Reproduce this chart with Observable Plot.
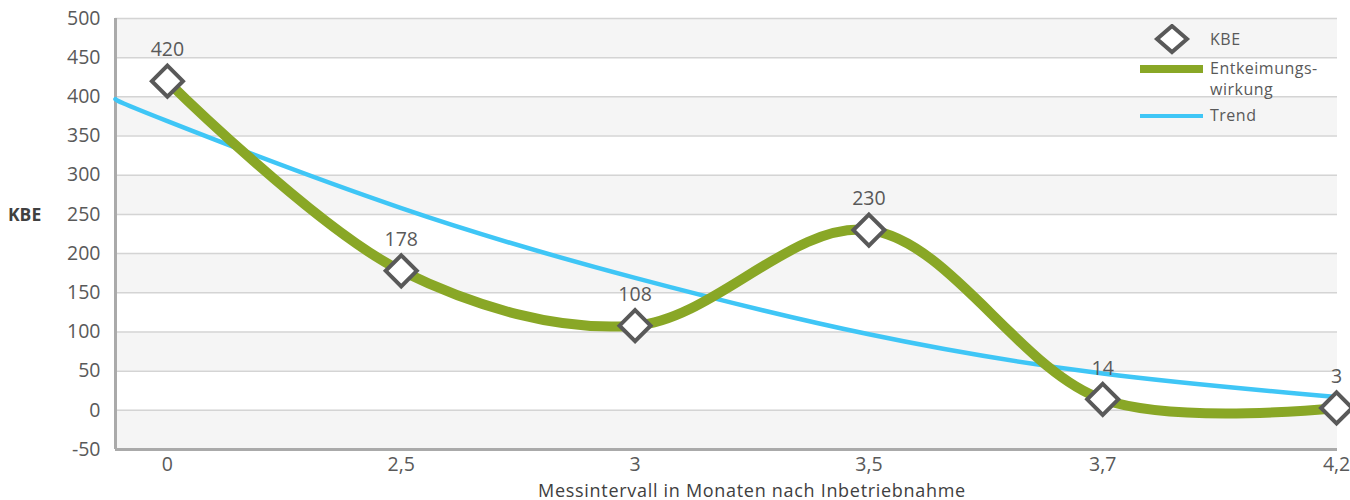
<!DOCTYPE html>
<html>
<head>
<meta charset="utf-8">
<script src="https://cdn.jsdelivr.net/npm/d3@7"></script>
<script src="https://cdn.jsdelivr.net/npm/@observablehq/plot@0.6"></script>
<style>
  body { margin: 0; background: #fff; font-family: "Open Sans", "DejaVu Sans", sans-serif; color: #595959; }
  #wrap { position: relative; width: 1350px; height: 500px; }
  .ylab { position: absolute; left: 8px; top: 202px; font-size: 17.5px; font-weight: bold; color: #404040; }
  .xlab { position: absolute; left: 0; width: 1504px; top: 479px; text-align: center; font-size: 18px; letter-spacing: 0.7px; color: #404040; line-height: 22px; }
  .legend { position: absolute; left: 1130px; top: 24px; font-size: 16px; letter-spacing: 0.5px; color: #595959; }
  .legend .txt { position: absolute; left: 80px; line-height: 16px; white-space: nowrap; }
</style>
</head>
<body>
<div id="wrap">
  <div id="chart"></div>
  <div class="ylab">KBE</div>
  <div class="xlab">Messintervall in Monaten nach Inbetriebnahme</div>
  <div class="legend">
    <svg width="80" height="110" style="position:absolute;left:0;top:0">
      <path d="M42,2 L57,15 L42,28 L27,15 Z" fill="#fff" stroke="#595959" stroke-width="4"/>
      <line x1="10" y1="45" x2="73" y2="45" stroke="#89a726" stroke-width="8"/>
      <line x1="10" y1="92" x2="73" y2="92" stroke="#3fc6f6" stroke-width="4"/>
    </svg>
    <div class="txt" style="top:7px">KBE</div>
    <div class="txt" style="top:36px">Entkeimungs-</div>
    <div class="txt" style="top:57px">wirkung</div>
    <div class="txt" style="top:83px">Trend</div>
  </div>
</div>
<script>
// Data
const categories = ["0", "2,5", "3", "3,5", "3,7", "4,2"];
const kbe = [420, 178, 108, 230, 14, 3];
const trendPos = [-0.222, 0, 1, 2, 3, 4, 5];
const trendValues = [397, 369, 258, 169, 97, 47, 17];
const yTicks = [-50, 0, 50, 100, 150, 200, 250, 300, 350, 400, 450, 500];
const shadedBands = [-50, 50, 150, 250, 350, 450];

const points = kbe.map((v, i) => ({i, v, label: String(v)}));
const trend = trendPos.map((p, k) => ({p, v: trendValues[k]}));
const bands = shadedBands.map(s => ({y1: s, y2: s + 50}));
const xDomain = [-0.222, 5.004];

const chart = Plot.plot({
  width: 1350,
  height: 500,
  marginLeft: 115,
  marginRight: 13,
  marginTop: 18,
  marginBottom: 51,
  style: {fontFamily: "'Open Sans', 'DejaVu Sans', sans-serif", color: "#595959", background: "transparent"},
  x: {domain: xDomain, axis: null},
  y: {domain: [-50, 500], axis: null},
  marks: [
    Plot.rect(bands, {y1: "y1", y2: "y2", fill: "#f5f5f5"}),
    Plot.ruleY(yTicks.filter(t => t > -50), {stroke: "#d4d4d4", strokeWidth: 1.5}),
    Plot.axisY({ticks: yTicks, tickSize: 0, tickPadding: 15, fontSize: 19.5, tickFormat: d => String(d)}),
    Plot.axisX({ticks: d3.range(categories.length), tickSize: 0, tickPadding: 8, fontSize: 19.5, tickFormat: i => categories[i], label: null}),
    Plot.ruleY([-50], {stroke: "#aaaaaa", strokeWidth: 3}),
    Plot.ruleX([xDomain[0]], {stroke: "#aaaaaa", strokeWidth: 3}),
    Plot.line(trend, {x: "p", y: "v", stroke: "#3fc6f6", strokeWidth: 4.5, curve: "natural"}),
    Plot.line(points, {x: "i", y: "v", stroke: "#89a726", strokeWidth: 10, curve: "catmull-rom"}),
    Plot.dot(points, {x: "i", y: "v", symbol: "diamond2", r: 14, fill: "#fff", stroke: "#595959", strokeWidth: 4}),
    Plot.text(points, {x: "i", y: "v", text: "label", dy: -31, fontSize: 19.5, fill: "#595959"})
  ]
});
document.getElementById("chart").appendChild(chart);
</script>
</body>
</html>
